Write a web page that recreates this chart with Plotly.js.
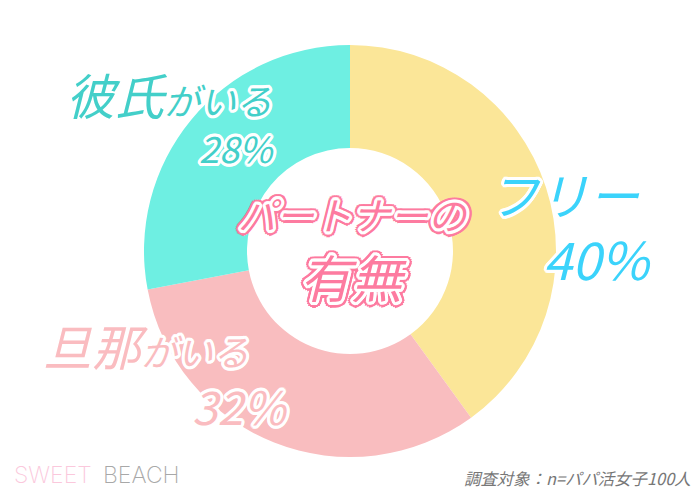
<!DOCTYPE html>
<html><head><meta charset="utf-8">
<script src="https://cdn.plot.ly/plotly-3.0.1.min.js"></script>
<style>html,body{margin:0;padding:0;background:#fff}</style></head>
<body><div id="c" style="width:700px;height:500px"></div>
<script>
const categories=["フリー","旦那がいる","彼氏がいる"];
const values=[40,32,28];
const sliceColors=["#fbe698","#f9bdbf","#6eefe2"];
const centerLines=["パートナーの","有無"];
const percentLabels=["40%","32%","28%"];
const note="調査対象：n=パパ活女子100人";
const brandA="SWEET", brandB="BEACH";

function ring(color,r){const s=[];for(let i=0;i<16;i++){const a=i*Math.PI/8;
 s.push((r*Math.cos(a)).toFixed(2)+"px "+(r*Math.sin(a)).toFixed(2)+"px 0 "+color);}return s;}
const whiteRing=ring("#fff",1.5).concat(ring("#fff",3)).join(",");
const centerRing=ring("#fff",1.5).concat(ring("#fff",3),ring("#fd7ba0",4),ring("#fd7ba0",5.5)).join(",");
const jp='"Noto Sans CJK JP","Noto Sans",sans-serif';
function lab(text,cx,cy,size,color,shadow){
 return {xref:"paper",yref:"paper",x:cx/700,y:1-cy/500,xanchor:"center",yanchor:"middle",
  text:text,showarrow:false,font:{family:jp,size:size,color:color,style:"italic",weight:400,shadow:shadow||"none"}};
}
function small(a,b,s){return a+'<span style="font-size:'+s+'px">'+b+'</span>';}
const annotations=[
 lab(small("彼氏","がいる",36),169,94,49,"#43cfc9",whiteRing),
 lab(percentLabels[2],237,147,36,"#43cfc9",whiteRing),
 lab(categories[0],564,193,50,"#3bd3fb",whiteRing),
 lab(percentLabels[0],597,257,52,"#3bd3fb",whiteRing),
 lab(small("旦那","がいる",36),146,344,49,"#fabcc0",whiteRing),
 lab(percentLabels[1],240,405,46,"#fabcc0",whiteRing),
 lab(centerLines[0],353,214,38,"#fd7ba0",centerRing),
 lab(centerLines[1],353,276,51,"#fd7ba0",centerRing),
 lab(note,577,478,16.4,"#777777"),
 {xref:"paper",yref:"paper",x:12/700,y:1-475/500,xanchor:"left",yanchor:"middle",showarrow:false,text:brandA,
  font:{family:"Inter, Lato, sans-serif",size:23,color:"#fbc8dc",weight:200}},
 {xref:"paper",yref:"paper",x:101/700,y:1-475/500,xanchor:"left",yanchor:"middle",showarrow:false,text:brandB,
  font:{family:"Inter, Lato, sans-serif",size:23,color:"#a8a8a8",weight:200}}
];
Plotly.newPlot("c",[{type:"pie",labels:categories,values:values,hole:0.5,sort:false,direction:"clockwise",rotation:0,
 marker:{colors:sliceColors,line:{width:0}},textinfo:"none",hoverinfo:"none",
 domain:{x:[144/700,556/700],y:[43/500,455/500]}}],
 {width:700,height:500,margin:{l:0,r:0,t:0,b:0},showlegend:false,paper_bgcolor:"#fff",annotations:annotations},
 {displayModeBar:false});
</script></body></html>
